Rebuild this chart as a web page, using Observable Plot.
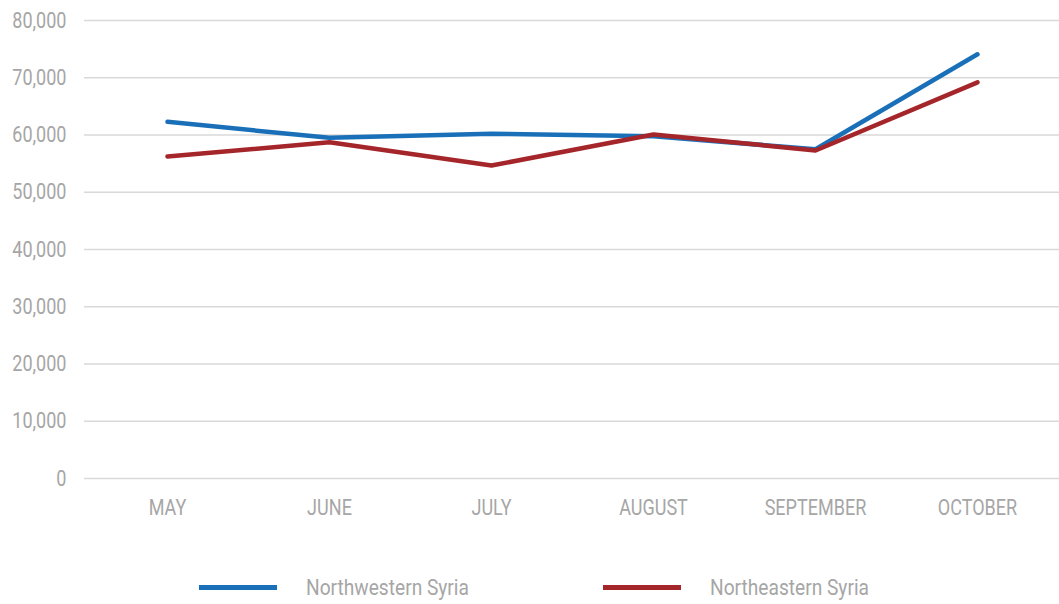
<!DOCTYPE html>
<html>
<head>
<meta charset="utf-8">
<script src="https://cdn.jsdelivr.net/npm/d3@7"></script>
<script src="https://cdn.jsdelivr.net/npm/@observablehq/plot@0.6"></script>
<style>
  html, body { margin: 0; padding: 0; background: #fff; }
  #wrap { position: relative; width: 1059px; height: 604px; font-family: Roboto, "DejaVu Sans Condensed", sans-serif; overflow: hidden; }
  #legend { position: absolute; left: 0; top: 572px; width: 1059px; height: 30px; }
  .item { position: absolute; top: 0; height: 30px; display: flex; align-items: center; }
  .swatch { width: 78px; height: 5px; flex: none; }
  .lab { margin-left: 29px; font-size: 22px; color: #a6a6a6; display: inline-block; transform: scaleX(0.87); transform-origin: left center; white-space: nowrap; }
</style>
</head>
<body>
<div id="wrap">
  <div id="chart"></div>
  <div id="legend"></div>
</div>
<script>
const months = ["MAY", "JUNE", "JULY", "AUGUST", "SEPTEMBER", "OCTOBER"];
const northwestern = [62300, 59500, 60200, 59800, 57500, 74100];
const northeastern = [56240, 58740, 54670, 60100, 57300, 69200];
const yTicks = [0, 10000, 20000, 30000, 40000, 50000, 60000, 70000, 80000];
const seriesNames = ["Northwestern Syria", "Northeastern Syria"];
const seriesColors = ["#1a70b8", "#a5262a"];

const nw = months.map((m, i) => ({month: m, value: northwestern[i]}));
const ne = months.map((m, i) => ({month: m, value: northeastern[i]}));

const fmt = d3.format(",");
const font = 'Roboto, "DejaVu Sans Condensed", sans-serif';

const chart = Plot.plot({
  width: 1059,
  height: 540,
  marginLeft: 84,
  marginRight: 0,
  marginTop: 20,
  marginBottom: 62,
  style: {fontFamily: font, background: "#fff"},
  x: {type: "point", domain: months, padding: 0.5},
  y: {domain: [0, 80000]},
  marks: [
    Plot.gridY(yTicks, {stroke: "#d9d9d9", strokeOpacity: 1, strokeWidth: 1.3}),
    Plot.axisY(yTicks, {tickSize: 0, tickPadding: 18, tickFormat: fmt, fontSize: 22, fill: "#a6a6a6", label: null}),
    Plot.axisX({tickSize: 0, tickPadding: 21, fontSize: 22, fill: "#a6a6a6", label: null}),
    Plot.line(nw, {x: "month", y: "value", stroke: seriesColors[0], strokeWidth: 4.5}),
    Plot.line(ne, {x: "month", y: "value", stroke: seriesColors[1], strokeWidth: 4.5})
  ]
});
document.getElementById("chart").appendChild(chart);

// condense axis text horizontally about its anchor point
chart.querySelectorAll("text").forEach(t => {
  const tr = t.getAttribute("transform");
  if (tr && /translate/.test(tr)) {
    t.setAttribute("transform", tr + " scale(0.82,1)");
  } else {
    const x = +t.getAttribute("x") || 0, y = +t.getAttribute("y") || 0;
    t.setAttribute("transform", `translate(${x},${y}) scale(0.82,1) translate(${-x},${-y})`);
  }
});

const legend = document.getElementById("legend");
const lefts = [199, 603];
seriesNames.forEach((name, i) => {
  const item = document.createElement("div");
  item.className = "item";
  item.style.left = lefts[i] + "px";
  const sw = document.createElement("div");
  sw.className = "swatch";
  sw.style.background = seriesColors[i];
  const lab = document.createElement("span");
  lab.className = "lab";
  lab.textContent = name;
  item.appendChild(sw);
  item.appendChild(lab);
  legend.appendChild(item);
});
</script>
</body>
</html>
